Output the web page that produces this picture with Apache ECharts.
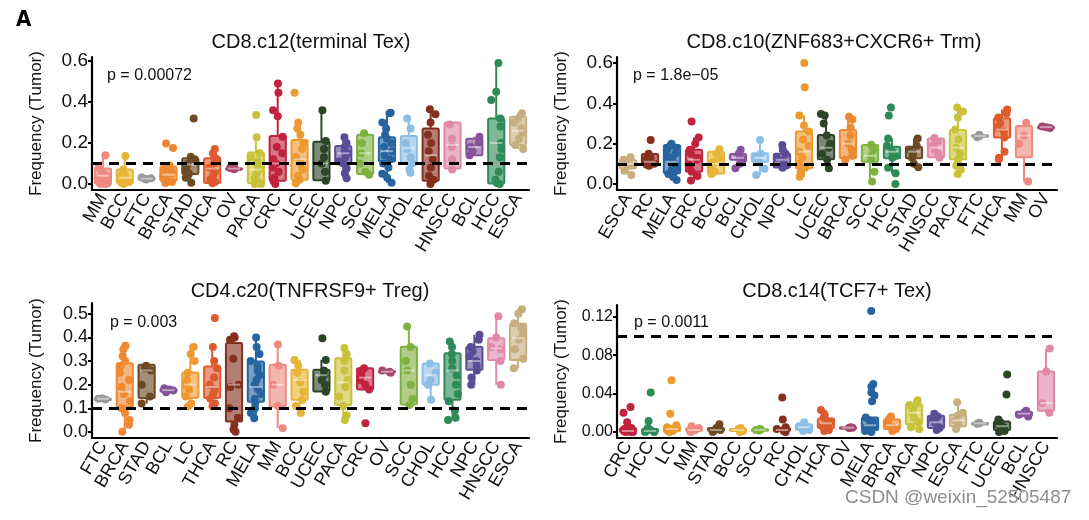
<!DOCTYPE html>
<html><head><meta charset="utf-8">
<script src="https://cdn.jsdelivr.net/npm/echarts@6/dist/echarts.min.js"></script>
<style>html,body{margin:0;padding:0;background:#fff}#c{width:1089px;height:520px}</style>
</head><body><div id="c"></div>
<script>
// ---------------- DATA ----------------
const p1Title = 'CD8.c12(terminal Tex)';
const p2Title = 'CD8.c10(ZNF683+CXCR6+ Trm)';
const p3Title = 'CD4.c20(TNFRSF9+ Treg)';
const p4Title = 'CD8.c14(TCF7+ Tex)';
const p1P = 'p = 0.00072';
const p2P = 'p = 1.8e\u221205';
const p3P = 'p = 0.003';
const p4P = 'p = 0.0011';
const yName = 'Frequency (Tumor)';
const threshold = 0.1;

const p1Ticks = [0, 0.2, 0.4, 0.6];
const p2Ticks = [0, 0.2, 0.4, 0.6];
const p3Ticks = [0, 0.1, 0.2, 0.3, 0.4, 0.5];
const p4Ticks = [0, 0.04, 0.08, 0.12];

const p1Cats = ['MM','BCC','FTC','BRCA','STAD','THCA','OV','PACA','CRC','LC','UCEC','NPC','SCC','MELA','CHOL','RC','HNSCC','BCL','HCC','ESCA'];
const p2Cats = ['ESCA','RC','MELA','CRC','BCC','BCL','CHOL','NPC','LC','UCEC','BRCA','SCC','HCC','STAD','HNSCC','PACA','FTC','THCA','MM','OV'];
const p3Cats = ['FTC','BRCA','STAD','BCL','LC','THCA','RC','MELA','MM','BCC','UCEC','PACA','CRC','OV','SCC','CHOL','HCC','NPC','HNSCC','ESCA'];
const p4Cats = ['CRC','HCC','LC','MM','STAD','BCC','SCC','RC','CHOL','THCA','OV','MELA','BRCA','PACA','NPC','ESCA','FTC','UCEC','BCL','HNSCC'];

// box stats: [lower whisker, Q1, median, Q3, upper whisker]
const p1Box = [
 [0,0.003,0.04,0.076,0.14],[0,0.005,0.03,0.07,0.137],[0.022,0.024,0.026,0.029,0.031],[0.005,0.015,0.045,0.085,0.09],
 [0.006,0.049,0.095,0.125,0.133],[0.003,0.005,0.075,0.125,0.17],[0.072,0.073,0.075,0.077,0.078],[0,0.003,0.07,0.153,0.228],
 [0,0.016,0.1,0.234,0.49],[0.003,0.02,0.12,0.215,0.3],[0.016,0.018,0.1,0.206,0.36],[0.028,0.1,0.15,0.185,0.228],
 [0.045,0.048,0.15,0.24,0.247],[0.006,0.11,0.16,0.228,0.348],[0.055,0.1,0.175,0.234,0.32],[0,0.016,0.14,0.27,0.364],
 [0.07,0.076,0.19,0.3,0.3],[0.137,0.14,0.18,0.22,0.23],[0,0.002,0.2,0.32,0.59],[0.17,0.19,0.26,0.328,0.348]
];
const p2Box = [
 [0.045,0.078,0.1,0.119,0.132],[0.09,0.094,0.11,0.149,0.15],[0.02,0.053,0.11,0.193,0.2],[0.017,0.06,0.12,0.17,0.23],
 [0.05,0.052,0.1,0.16,0.172],[0.078,0.12,0.13,0.149,0.17],[0.045,0.11,0.13,0.152,0.218],[0.08,0.082,0.12,0.15,0.193],
 [0.036,0.078,0.16,0.26,0.34],[0.078,0.122,0.18,0.243,0.347],[0.12,0.127,0.2,0.268,0.334],[0.012,0.11,0.14,0.193,0.195],
 [0.053,0.127,0.16,0.185,0.226],[0.083,0.127,0.16,0.185,0.226],[0.13,0.132,0.18,0.226,0.228],[0.05,0.122,0.18,0.268,0.38],
 [0.232,0.234,0.238,0.242,0.244],[0.122,0.231,0.27,0.326,0.37],[0.012,0.132,0.24,0.288,0.304],[0.278,0.279,0.282,0.284,0.285]
];
const p3Box = [
 [0.137,0.138,0.14,0.141,0.142],[0,0.107,0.17,0.291,0.369],[0.12,0.143,0.26,0.284,0.29],[0.167,0.17,0.177,0.183,0.19],
 [0.107,0.143,0.2,0.251,0.369],[0.11,0.143,0.19,0.277,0.369],[0,0.044,0.2,0.376,0.41],[0.058,0.128,0.19,0.298,0.404],
 [0.016,0.107,0.2,0.284,0.375],[0.08,0.136,0.22,0.263,0.305],[0.17,0.171,0.24,0.263,0.305],[0.05,0.114,0.21,0.312,0.355],
 [0.18,0.18,0.23,0.27,0.27],[0.25,0.252,0.255,0.258,0.26],[0.114,0.116,0.26,0.361,0.446],[0.136,0.2,0.24,0.29,0.29],
 [0.05,0.136,0.26,0.333,0.383],[0.2,0.263,0.3,0.361,0.411],[0.2,0.305,0.354,0.397,0.49],[0.27,0.305,0.397,0.458,0.52]
];
const p4Box = [
 [0,0,0.001,0.004,0.01],[0,0,0.001,0.003,0.004],[0,0.001,0.003,0.006,0.007],[0,0.001,0.002,0.004,0.006],
 [0,0.001,0.002,0.004,0.008],[0,0.001,0.002,0.003,0.004],[0.0015,0.0018,0.0022,0.0027,0.003],[0,0.001,0.002,0.004,0.005],
 [0.001,0.002,0.005,0.008,0.01],[0.001,0.004,0.009,0.014,0.023],[0.004,0.0042,0.0045,0.0048,0.005],[0,0.002,0.007,0.015,0.015],
 [0.001,0.003,0.007,0.013,0.016],[0.003,0.008,0.02,0.029,0.033],[0.002,0.004,0.01,0.017,0.019],[0.003,0.006,0.012,0.018,0.031],
 [0.0085,0.0087,0.009,0.0093,0.0095],[0,0.002,0.006,0.011,0.013],[0.016,0.017,0.019,0.021,0.022],[0.02,0.022,0.03,0.063,0.087]
];

// individual samples per category
const p1Pts = [
 [0.14,0.08,0.06,0.04,0.03,0.02,0.01,0.005,0,0],[0.137,0.07,0.05,0.04,0.03,0.02,0.01,0.005,0],[0.022,0.025,0.028,0.031],
 [0.198,0.175,0.09,0.08,0.07,0.06,0.05,0.04,0.03,0.02,0.01,0.005],[0.32,0.133,0.12,0.1,0.09,0.07,0.05,0.03,0.006],
 [0.17,0.15,0.13,0.12,0.1,0.08,0.06,0.04,0.02,0.01,0.003],[0.072,0.075,0.078],
 [0.337,0.228,0.15,0.13,0.11,0.09,0.07,0.05,0.03,0.01,0,0],[0.49,0.445,0.36,0.33,0.23,0.18,0.15,0.12,0.1,0.08,0.06,0.03,0.015,0],
 [0.445,0.3,0.27,0.24,0.2,0.17,0.13,0.1,0.07,0.04,0.02,0.003],[0.36,0.21,0.17,0.13,0.1,0.06,0.016],
 [0.228,0.2,0.18,0.16,0.15,0.13,0.11,0.1,0.075,0.052,0.028],[0.247,0.2,0.15,0.1,0.06,0.045],
 [0.348,0.345,0.3,0.27,0.24,0.22,0.2,0.18,0.16,0.14,0.12,0.1,0.08,0.05,0.03,0.006],[0.32,0.27,0.2,0.17,0.13,0.1,0.07,0.055],
 [0.364,0.34,0.3,0.24,0.2,0.16,0.12,0.08,0.04,0.02,0],[0.29,0.22,0.18,0.12,0.07],[0.23,0.2,0.18,0.16,0.14],
 [0.59,0.45,0.41,0.32,0.28,0.2,0.17,0.13,0.06,0.02,0.005,0],[0.345,0.32,0.3,0.27,0.25,0.22,0.19,0.17]
];
const p2Pts = [
 [0.132,0.12,0.1,0.09,0.065,0.045],[0.218,0.15,0.14,0.13,0.12,0.11,0.1,0.095,0.09],
 [0.2,0.19,0.18,0.17,0.15,0.14,0.13,0.12,0.11,0.1,0.09,0.08,0.07,0.06,0.05,0.035,0.02],
 [0.31,0.23,0.2,0.17,0.15,0.13,0.12,0.1,0.08,0.06,0.04,0.017],[0.172,0.15,0.13,0.11,0.1,0.08,0.06,0.05],
 [0.17,0.15,0.13,0.12,0.1,0.078],[0.218,0.15,0.13,0.11,0.075,0.045],[0.193,0.17,0.15,0.13,0.12,0.1,0.09,0.08],
 [0.6,0.48,0.34,0.29,0.26,0.22,0.19,0.16,0.13,0.1,0.08,0.06,0.036],[0.347,0.34,0.3,0.24,0.2,0.18,0.15,0.12,0.078],
 [0.334,0.32,0.28,0.24,0.2,0.17,0.14,0.12],[0.195,0.17,0.14,0.12,0.06,0.012],[0.38,0.34,0.226,0.19,0.16,0.14,0.13,0.08,0.053,0],
 [0.226,0.19,0.17,0.15,0.13,0.1,0.083],[0.228,0.21,0.19,0.17,0.15,0.13],[0.38,0.36,0.33,0.27,0.22,0.18,0.15,0.12,0.09,0.07,0.05],
 [0.232,0.238,0.244],[0.37,0.35,0.33,0.3,0.28,0.26,0.23,0.16,0.13,0.122],[0.304,0.24,0.2,0.012],[0.278,0.282,0.285]
];
const p3Pts = [
 [0.137,0.14,0.142],[0.365,0.35,0.32,0.3,0.28,0.25,0.22,0.19,0.16,0.13,0.1,0.08,0.05,0.03,0],[0.28,0.27,0.26,0.2,0.15,0.12],
 [0.168,0.175,0.18,0.185],[0.36,0.33,0.3,0.25,0.22,0.2,0.18,0.15,0.12,0.107],[0.482,0.36,0.3,0.27,0.23,0.2,0.18,0.16,0.14,0.12,0.11],
 [0.405,0.4,0.39,0.31,0.2,0.19,0.1,0.06,0.03,0.01,0],[0.4,0.36,0.33,0.3,0.28,0.26,0.24,0.22,0.2,0.18,0.16,0.14,0.12,0.1,0.08,0.058],
 [0.37,0.28,0.2,0.11,0.015],[0.305,0.28,0.25,0.21,0.17,0.135,0.11,0.08],[0.397,0.305,0.26,0.24,0.22,0.2,0.17],
 [0.355,0.33,0.3,0.26,0.22,0.19,0.15,0.11,0.07,0.05],[0.27,0.26,0.24,0.22,0.2,0.18,0.037],[0.25,0.255,0.26],
 [0.446,0.36,0.3,0.26,0.2,0.14,0.114],[0.29,0.25,0.22,0.2,0.136],[0.383,0.36,0.33,0.3,0.27,0.24,0.2,0.16,0.13,0.09,0.06,0.05],
 [0.411,0.39,0.36,0.34,0.32,0.3,0.28,0.26,0.23,0.2],[0.49,0.4,0.36,0.35,0.3,0.2],[0.52,0.5,0.46,0.44,0.41,0.39,0.35,0.31,0.27]
];
const p4Pts = [
 [0.026,0.02,0.01,0.004,0.003,0.002,0.001,0,0,0],[0.041,0.0115,0.004,0.002,0.001,0,0],[0.054,0.019,0.007,0.005,0.003,0.002,0.001,0],
 [0.006,0.004,0.002,0.001,0],[0.008,0.004,0.002,0.001,0],[0.004,0.003,0.002,0.001,0],[0.003,0.0025,0.002,0.0015],
 [0.036,0.013,0.005,0.003,0.002,0.001,0],[0.01,0.008,0.006,0.004,0.002,0.001],[0.023,0.018,0.015,0.012,0.01,0.008,0.006,0.004,0.002,0.001],
 [0.004,0.0045,0.005],[0.126,0.05,0.047,0.041,0.038,0.032,0.015,0.012,0.01,0.008,0.006,0.004,0.002,0.001,0],
 [0.016,0.013,0.01,0.007,0.005,0.003,0.001],[0.033,0.03,0.028,0.024,0.02,0.015,0.01,0.005,0.003],
 [0.019,0.016,0.013,0.01,0.007,0.004,0.002],[0.031,0.02,0.017,0.012,0.008,0.003],[0.0085,0.009,0.0095],
 [0.06,0.039,0.013,0.01,0.008,0.005,0.003,0.001,0],[0.022,0.02,0.018,0.016],[0.087,0.063,0.03,0.02]
];

// ---------------- STYLE ----------------
const COLORS = {
 MM:'#EE8A80', BCC:'#E6B436', FTC:'#999999', BRCA:'#EE8833', STAD:'#6B4A24', THCA:'#DD5B2F',
 OV:'#A8456E', PACA:'#C8C23A', CRC:'#C1233F', LC:'#ED9A31', UCEC:'#2D4527', NPC:'#5B4C97',
 SCC:'#7EB23F', MELA:'#26649F', CHOL:'#8DBEE5', RC:'#85301F', HNSCC:'#DF88A8', BCL:'#86539B',
 HCC:'#2E8A57', ESCA:'#C6AE7E'
};
const FONT = "'Liberation Sans', Arial, Helvetica, sans-serif";
function rgba(hex, a){
  const n = parseInt(hex.slice(1), 16);
  return 'rgba(' + ((n>>16)&255) + ',' + ((n>>8)&255) + ',' + (n&255) + ',' + a + ')';
}
function jitter(i, k){
  const s = Math.sin((i + 1) * 12.9898 + (k + 1) * 78.233) * 43758.5453;
  return (s - Math.floor(s)) * 2 - 1;
}

const panels = [
 {cats:p1Cats, box:p1Box, pts:p1Pts, title:p1Title, p:p1P, ticks:p1Ticks, dec:1, tickFont:19,
  grid:{left:92, top:57, width:437, height:133}, min:-0.0295, max:0.6195, tx:311, ty:42, px:107, py:76},
 {cats:p2Cats, box:p2Box, pts:p2Pts, title:p2Title, p:p2P, ticks:p2Ticks, dec:1, tickFont:19,
  grid:{left:617, top:57, width:440, height:133}, min:-0.03, max:0.63, tx:834, ty:42, px:633, py:76},
 {cats:p3Cats, box:p3Box, pts:p3Pts, title:p3Title, p:p3P, ticks:p3Ticks, dec:1, tickFont:18,
  grid:{left:92, top:303, width:437, height:135}, min:-0.026, max:0.546, tx:310, ty:291, px:110, py:323},
 {cats:p4Cats, box:p4Box, pts:p4Pts, title:p4Title, p:p4P, ticks:p4Ticks, dec:2, tickFont:16,
  grid:{left:617, top:305, width:440, height:133}, min:-0.0063, max:0.1323, tx:837, ty:291, px:634, py:323}
];

function boxRender(cats){
  return function(params, api){
    const i = api.value(0);
    const c = COLORS[cats[i]];
    const lo = api.coord([i, api.value(1)]);
    const q1 = api.coord([i, api.value(2)]);
    const md = api.coord([i, api.value(3)]);
    const q3 = api.coord([i, api.value(4)]);
    const hi = api.coord([i, api.value(5)]);
    const w = api.size([1, 0])[0] * 0.74;
    const x = lo[0];
    return {type:'group', children:[
      {type:'line', shape:{x1:x, y1:hi[1], x2:x, y2:q3[1]}, style:{stroke:c, lineWidth:2}},
      {type:'line', shape:{x1:x, y1:q1[1], x2:x, y2:lo[1]}, style:{stroke:c, lineWidth:2}},
      {type:'rect', shape:{x:x - w/2, y:q3[1], width:w, height:Math.max(q1[1] - q3[1], 1.5), r:1.5},
        style:{fill:rgba(c, 0.62), stroke:c, lineWidth:2}},
      {type:'line', shape:{x1:x - w/2 + 2, y1:md[1], x2:x + w/2 - 2, y2:md[1]},
        style:{stroke:'rgba(255,255,255,0.45)', lineWidth:2}}
    ]};
  };
}
function ptRender(cats){
  return function(params, api){
    const i = api.value(0), v = api.value(1), k = api.value(2);
    const p = api.coord([i, v]);
    const w = api.size([1, 0])[0];
    const dx = jitter(i, k) * w * 0.24;
    return {type:'circle', shape:{cx:p[0] + dx, cy:p[1], r:4}, style:{fill:COLORS[cats[i]]}};
  };
}

const grids = [], xAxes = [], yAxes = [], series = [], graphics = [];
panels.forEach(function(P, g){
  grids.push(Object.assign({containLabel:false}, P.grid));
  xAxes.push({type:'category', gridIndex:g, data:P.cats, boundaryGap:true,
    axisLine:{onZero:false, lineStyle:{color:'#000', width:2.2}},
    axisTick:{alignWithLabel:true, length:4, lineStyle:{color:'#000', width:2}},
    axisLabel:{interval:0, rotate:60, fontSize:18, color:'#111', margin:5, fontFamily:FONT},
    splitLine:{show:false}});
  yAxes.push({type:'value', gridIndex:g, min:P.min, max:P.max,
    axisLine:{show:true, lineStyle:{color:'#000', width:2.2}},
    axisTick:{show:true, length:4, lineStyle:{color:'#000', width:2}, customValues:P.ticks},
    axisLabel:{customValues:P.ticks, fontSize:P.tickFont, color:'#111', margin:4, fontFamily:FONT,
      formatter:function(v){ return Number(v).toFixed(P.dec); }},
    splitLine:{show:false},
    name:yName, nameLocation:'middle', nameGap:47,
    nameTextStyle:{fontSize:17, color:'#111', fontFamily:FONT}});
  const ptData = [];
  P.pts.forEach(function(arr, i){ arr.forEach(function(v, k){ ptData.push([i, v, k]); }); });
  series.push({type:'custom', xAxisIndex:g, yAxisIndex:g, renderItem:ptRender(P.cats),
    encode:{x:0, y:1}, data:ptData, z:2, silent:true});
  series.push({type:'custom', xAxisIndex:g, yAxisIndex:g, renderItem:boxRender(P.cats),
    encode:{x:0, y:[1,2,3,4,5]}, data:P.box.map(function(b, i){ return [i].concat(b); }), z:3, silent:true});
  series.push({type:'line', xAxisIndex:g, yAxisIndex:g, data:[], z:4, silent:true,
    markLine:{silent:true, symbol:'none', label:{show:false}, animation:false,
      lineStyle:{color:'#000', width:2.8, type:[10, 7]}, data:[{yAxis:threshold}]}});
  graphics.push({type:'text', x:P.tx, y:P.ty, style:{text:P.title, font:'20px ' + FONT, fill:'#111',
    textAlign:'center', align:'center', textVerticalAlign:'middle', verticalAlign:'middle'}});
  graphics.push({type:'text', x:P.px, y:P.py, style:{text:P.p, font:'16px ' + FONT, fill:'#111',
    textAlign:'left', align:'left', textVerticalAlign:'middle', verticalAlign:'middle'}});
});
graphics.push({type:'text', x:16, y:20, style:{text:'A', font:"bold 22px 'Liberation Sans Narrow','DejaVu Sans Condensed',sans-serif", fill:'#000',
  textAlign:'left', align:'left', textVerticalAlign:'middle', verticalAlign:'middle'}});
graphics.push({type:'text', x:845, y:498, z:100, style:{text:'CSDN @weixin_52505487', font:'19px ' + FONT, fill:'#8e8e8e',
  stroke:'rgba(255,255,255,0.8)', lineWidth:1,
  textAlign:'left', align:'left', textVerticalAlign:'middle', verticalAlign:'middle'}});

const chart = echarts.init(document.getElementById('c'), null, {renderer:'canvas'});
chart.setOption({
  animation:false, backgroundColor:'#fff',
  textStyle:{fontFamily:FONT},
  grid:grids, xAxis:xAxes, yAxis:yAxes, series:series, graphic:graphics
});
</script></body></html>
